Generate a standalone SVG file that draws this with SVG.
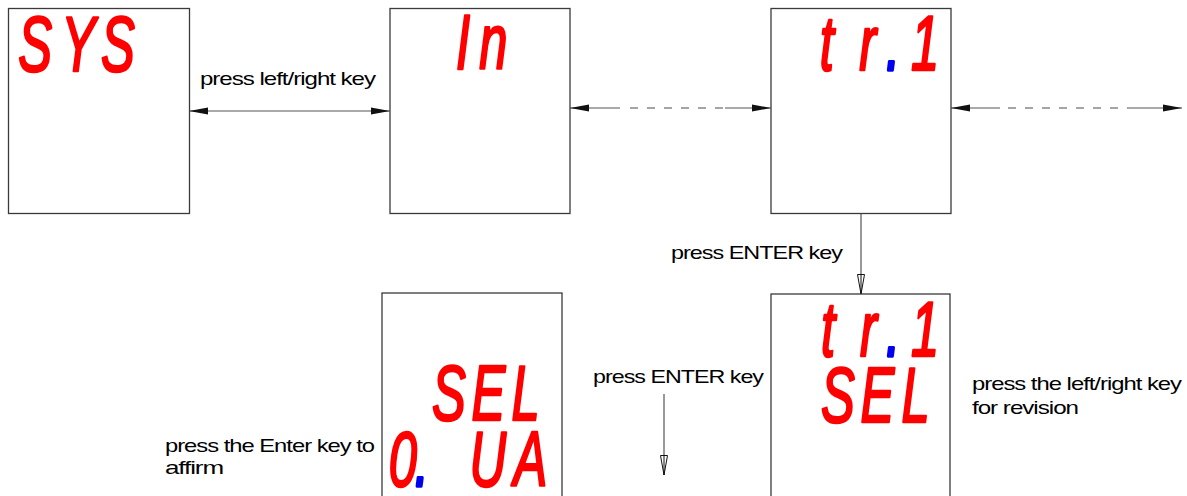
<svg xmlns="http://www.w3.org/2000/svg" width="1187" height="496" viewBox="0 0 1187 496">
<style>
.box{fill:#fff;stroke:#3a3a3a;stroke-width:1.3}
.seg{font-family:"Liberation Sans",Arial,sans-serif;font-style:italic;font-size:78px;fill:#ff0000;stroke:#ff0000;stroke-width:2.6;stroke-linejoin:round}
.lbl{font-family:"Liberation Sans",Arial,sans-serif;font-size:19px;fill:#000;letter-spacing:-0.8px}
.ln{stroke:#555;stroke-width:1.2;fill:none}
.dash{stroke:#888;stroke-width:1.4;stroke-dasharray:8 9;fill:none}
.dp{fill:#0000ee;stroke:#0000ee;stroke-width:3.5}
</style>
<defs>
<marker id="ah" markerUnits="userSpaceOnUse" markerWidth="20" markerHeight="10" refX="19" refY="4" orient="auto-start-reverse">
<path d="M0,0.4 L19,4 L0,7.6 Z" fill="#111"/>
</marker>
<marker id="av" markerUnits="userSpaceOnUse" markerWidth="22" markerHeight="10" refX="20" refY="4" orient="auto">
<path d="M0.5,0.5 L20,4 L0.5,7.5 Z" fill="#fff" stroke="#111" stroke-width="1"/>
<path d="M0,4 L20,4" stroke="#111" stroke-width="1"/>
</marker>
</defs>
<g id="connectors">
<line class="ln" x1="189" y1="111" x2="390" y2="111" marker-start="url(#ah)" marker-end="url(#ah)"/>
<line class="ln" x1="570" y1="108" x2="620" y2="108" marker-start="url(#ah)"/>
<line class="dash" x1="630" y1="108" x2="725" y2="108"/>
<line class="ln" x1="725" y1="108" x2="771" y2="108" marker-end="url(#ah)"/>
<line class="ln" x1="951" y1="108" x2="1000" y2="108" marker-start="url(#ah)"/>
<line class="dash" x1="1008" y1="108" x2="1128" y2="108"/>
<line class="ln" x1="1128" y1="108" x2="1182" y2="108" marker-end="url(#ah)"/>
<line class="ln" x1="861" y1="213" x2="861" y2="294" marker-end="url(#av)"/>
<line class="ln" x1="664" y1="394" x2="664" y2="475" marker-end="url(#av)"/>
</g>
<g id="node-sys">
<rect class="box" x="8.5" y="8.5" width="181" height="205"/>
<text class="seg" transform="scale(0.65,1)" x="28 94.5 155.5" y="71">SYS</text>
</g>
<g id="node-in">
<rect class="box" x="390" y="8.5" width="180" height="205"/>
<text class="seg" transform="scale(0.65,1)" x="701.5 737.3" y="69">In</text>
</g>
<g id="node-tr1">
<rect class="box" x="771" y="8.5" width="180" height="205"/>
<text class="seg" transform="scale(0.65,1)" x="1261 1321.9 1363 1401.5" y="70">tr<tspan class="dp">.</tspan>1</text>
</g>
<g id="node-tr1-sel">
<rect class="box" x="771" y="294" width="179" height="215"/>
<text class="seg" transform="scale(0.65,1)" x="1263 1323 1363 1401.5" y="356">tr<tspan class="dp">.</tspan>1</text>
<text class="seg" transform="scale(0.65,1)" x="1263.2 1323.8 1386.8" y="422">SEL</text>
</g>
<g id="node-sel-qua">
<rect class="box" x="382" y="293" width="180" height="215"/>
<text class="seg" transform="scale(0.65,1)" x="664.7 725.3 786.8" y="420">SEL</text>
<text class="seg" transform="scale(0.65,1)" x="597.9 638 722.2 790.2" y="486">0<tspan class="dp">.</tspan>UA</text>
</g>
<g id="labels">
<text class="lbl" x="200" y="85" textLength="175" lengthAdjust="spacingAndGlyphs">press left/right key</text>
<text class="lbl" x="671" y="259" textLength="171" lengthAdjust="spacingAndGlyphs">press ENTER key</text>
<text class="lbl" x="593" y="383" textLength="170" lengthAdjust="spacingAndGlyphs">press ENTER key</text>
<text class="lbl" x="165" y="452" textLength="209" lengthAdjust="spacingAndGlyphs">press the Enter key to</text>
<text class="lbl" x="165" y="473.5" textLength="58" lengthAdjust="spacingAndGlyphs">affirm</text>
<text class="lbl" x="972" y="390" textLength="209" lengthAdjust="spacingAndGlyphs">press the left/right key</text>
<text class="lbl" x="972" y="414" textLength="106" lengthAdjust="spacingAndGlyphs">for revision</text>
</g>
</svg>
